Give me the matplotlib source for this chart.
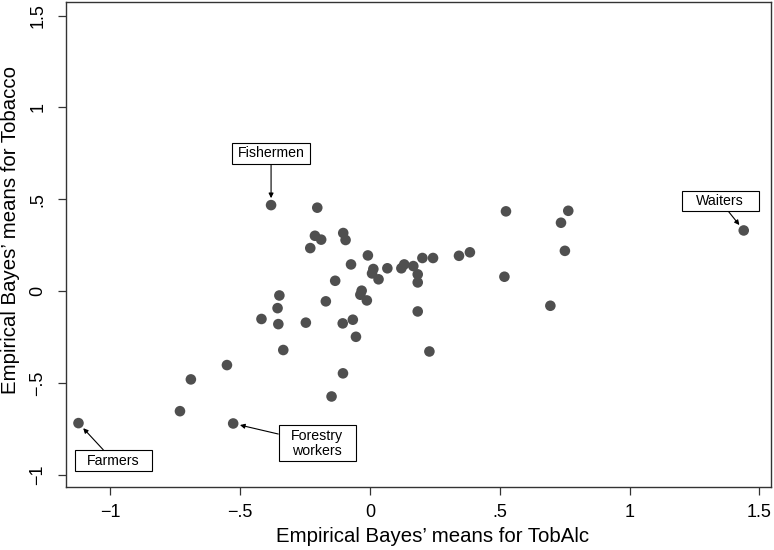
import numpy as np
import matplotlib.pyplot as plt
from matplotlib.path import Path

plt.rcParams['font.family'] = ['Liberation Sans', 'DejaVu Sans']

# Empirical Bayes means, one point per occupation
tobalc = [-0.381, -0.203, -0.212, -0.188, -0.230, -0.103, -0.094, -0.008, -0.073, 0.013,
          0.008, 0.033, 0.067, 0.121, 0.132, 0.167, 0.184, 0.184, 0.202, 0.243,
          0.343, 0.385, 0.524, 0.518, -0.134, -0.349, -0.356, -0.418, -0.353, -0.247,
          -0.170, -0.032, -0.037, -0.012, -0.105, -0.066, -0.054, -0.334, 0.184, 0.229,
          -0.104, -0.148, 0.764, 0.736, 0.751, 0.695, 1.440, -1.123, -0.732, -0.690,
          -0.551, -0.527]
tobacco = [0.468, 0.454, 0.301, 0.280, 0.234, 0.316, 0.278, 0.194, 0.145, 0.120,
           0.096, 0.064, 0.124, 0.124, 0.145, 0.136, 0.091, 0.047, 0.180, 0.180,
           0.192, 0.211, 0.434, 0.078, 0.056, -0.024, -0.093, -0.152, -0.180, -0.172,
           -0.056, 0.002, -0.020, -0.051, -0.176, -0.156, -0.249, -0.321, -0.111, -0.329,
           -0.448, -0.574, 0.437, 0.372, 0.219, -0.080, 0.330, -0.719, -0.654, -0.481,
           -0.403, -0.721]

# labelled points: (text, point, text position)
labels = ['Fishermen', 'Waiters', 'Farmers', 'Forestry\nworkers']
label_pts = [(-0.381, 0.468), (1.440, 0.330), (-1.123, -0.719), (-0.527, -0.721)]
label_pos = [(-0.381, 0.749), (1.349, 0.490), (-0.989, -0.923), (-0.203, -0.828)]

xticks = [-1, -0.5, 0, 0.5, 1, 1.5]
xticklabels = ['\u22121', '\u2212.5', '0', '.5', '1', '1.5']
yticks = [-1, -0.5, 0, 0.5, 1, 1.5]
yticklabels = ['\u22121', '\u2212.5', '0', '.5', '1', '1.5']


def fixed_box(x0, y0, width, height, mutation_size):
    # stata-like label box: same width for every label
    cx = x0 + width / 2
    w = 5.45 * mutation_size
    pad = 0.24 * mutation_size
    verts = [(cx - w / 2, y0 - pad), (cx + w / 2, y0 - pad),
             (cx + w / 2, y0 + height + pad), (cx - w / 2, y0 + height + pad),
             (cx - w / 2, y0 - pad)]
    return Path(verts, closed=True)


fig = plt.figure(figsize=(7.74, 5.5), dpi=100)
ax = fig.add_axes([0.0853, 0.1145, 0.9108, 0.8819])

ax.scatter(tobalc, tobacco, s=58, color='#4f4f4f', edgecolors='none', zorder=3)

for txt, pt, pos in zip(labels, label_pts, label_pos):
    ax.annotate(txt, xy=pt, xytext=pos, ha='center', va='center', fontsize=10.2,
                linespacing=1.1,
                bbox=dict(boxstyle=fixed_box, fc='white', ec='black', lw=0.8),
                arrowprops=dict(arrowstyle='-|>', color='black', lw=0.8,
                                mutation_scale=7, shrinkA=0, shrinkB=5),
                zorder=4)

ax.set_xlim(-1.171, 1.545)
ax.set_ylim(-1.067, 1.574)
ax.set_xticks(xticks)
ax.set_xticklabels(xticklabels)
ax.set_yticks(yticks)
ax.set_yticklabels(yticklabels, rotation=90, va='center')
ax.tick_params(axis='both', length=6, width=0.9, color='#333333', labelsize=13)
ax.tick_params(axis='x', pad=6)
ax.tick_params(axis='y', pad=8)
for sp in ax.spines.values():
    sp.set_color('#333333')
    sp.set_linewidth(1.0)

ax.set_xlabel('Empirical Bayes\u2019 means for TobAlc', fontsize=14.7)
ax.set_ylabel('Empirical Bayes\u2019 means for Tobacco', fontsize=14.7)
ax.xaxis.set_label_coords(0.52, -0.083)
ax.yaxis.set_label_coords(-0.065, 0.53)

fig.savefig('out.png', dpi=100)
